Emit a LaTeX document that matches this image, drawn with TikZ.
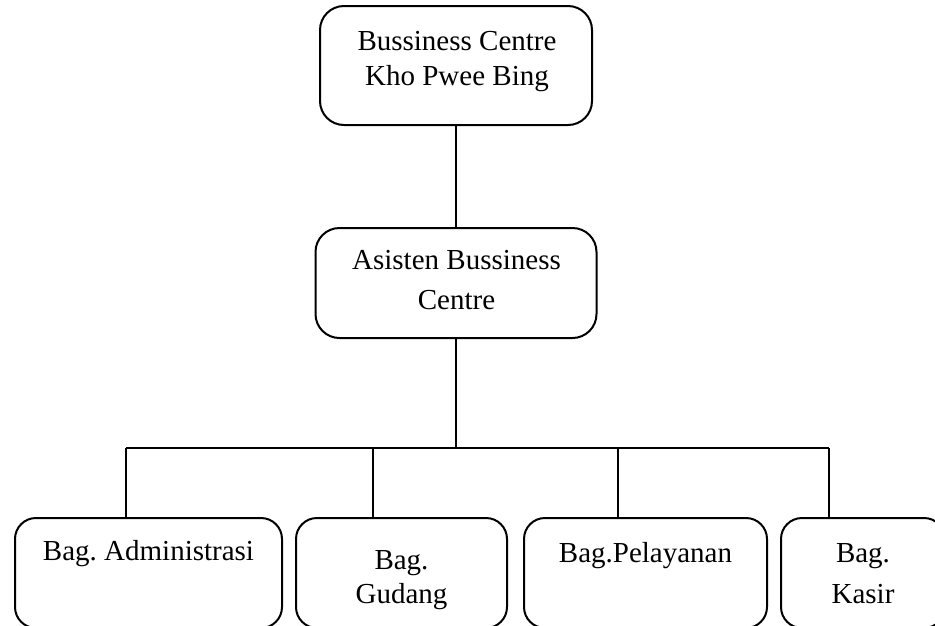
\documentclass[tikz,border=0pt]{standalone}
\usepackage{fontspec}
\setmainfont{Liberation Serif}
\frenchspacing
\begin{document}
\begin{tikzpicture}[x=1pt,y=-1pt,
  box/.style={draw=black, line width=2pt, rounded corners=24pt, inner sep=0pt, outer sep=0pt},
  sbox/.style={draw=black, line width=2pt, rounded corners=21pt, inner sep=0pt, outer sep=0pt, minimum height=110pt},
  lbl/.style={anchor=base, inner sep=0pt, font=\fontsize{29}{35}\selectfont},
  conn/.style={draw=black, line width=2pt}]
\clip (0,0) rectangle (935,625);
% boxes
\node[box, minimum width=272pt, minimum height=119pt] (b1) at (456,65.5) {};
\node[box, minimum width=281pt, minimum height=110pt] (b2) at (456,283) {};
\node[sbox, minimum width=267pt] (c1) at (148.5,573) {};
\node[sbox, minimum width=211pt] (c2) at (401.5,573) {};
\node[sbox, minimum width=243pt] (c3) at (645.5,573) {};
\node[sbox, minimum width=164pt] (c4) at (863,573) {};
% labels
\node[lbl] (t1a) at (457,50) {Bussiness Centre};
\node[lbl] (t1b) at (457,85) {Kho Pwee Bing};
\node[lbl] (t2a) at (456.5,269) {Asisten Bussiness};
\node[lbl] (t2b) at (456.5,309) {Centre};
\node[lbl] (u1) at (148.5,560) {Bag. Administrasi};
\node[lbl] (u2a) at (401.5,569) {Bag.};
\node[lbl] (u2b) at (401.5,603) {Gudang};
\node[lbl] (u3) at (645.5,562) {Bag.Pelayanan};
\node[lbl] (u4a) at (863,562) {Bag.};
\node[lbl] (u4b) at (863,603) {Kasir};
% connectors
\coordinate (j) at (456,448);
\coordinate (k1) at (126,448);
\coordinate (k2) at (373,448);
\coordinate (k3) at (618,448);
\coordinate (k4) at (829,448);
\draw[conn] (b1.south) -- (b2.north);
\draw[conn] (b2.south) -- (j);
\draw[conn] (k1) -- (k4);
\draw[conn] (k1) -- (k1 |- c1.north);
\draw[conn] (k2) -- (k2 |- c2.north);
\draw[conn] (k3) -- (k3 |- c3.north);
\draw[conn] (k4) -- (k4 |- c4.north);
\end{tikzpicture}
\end{document}
